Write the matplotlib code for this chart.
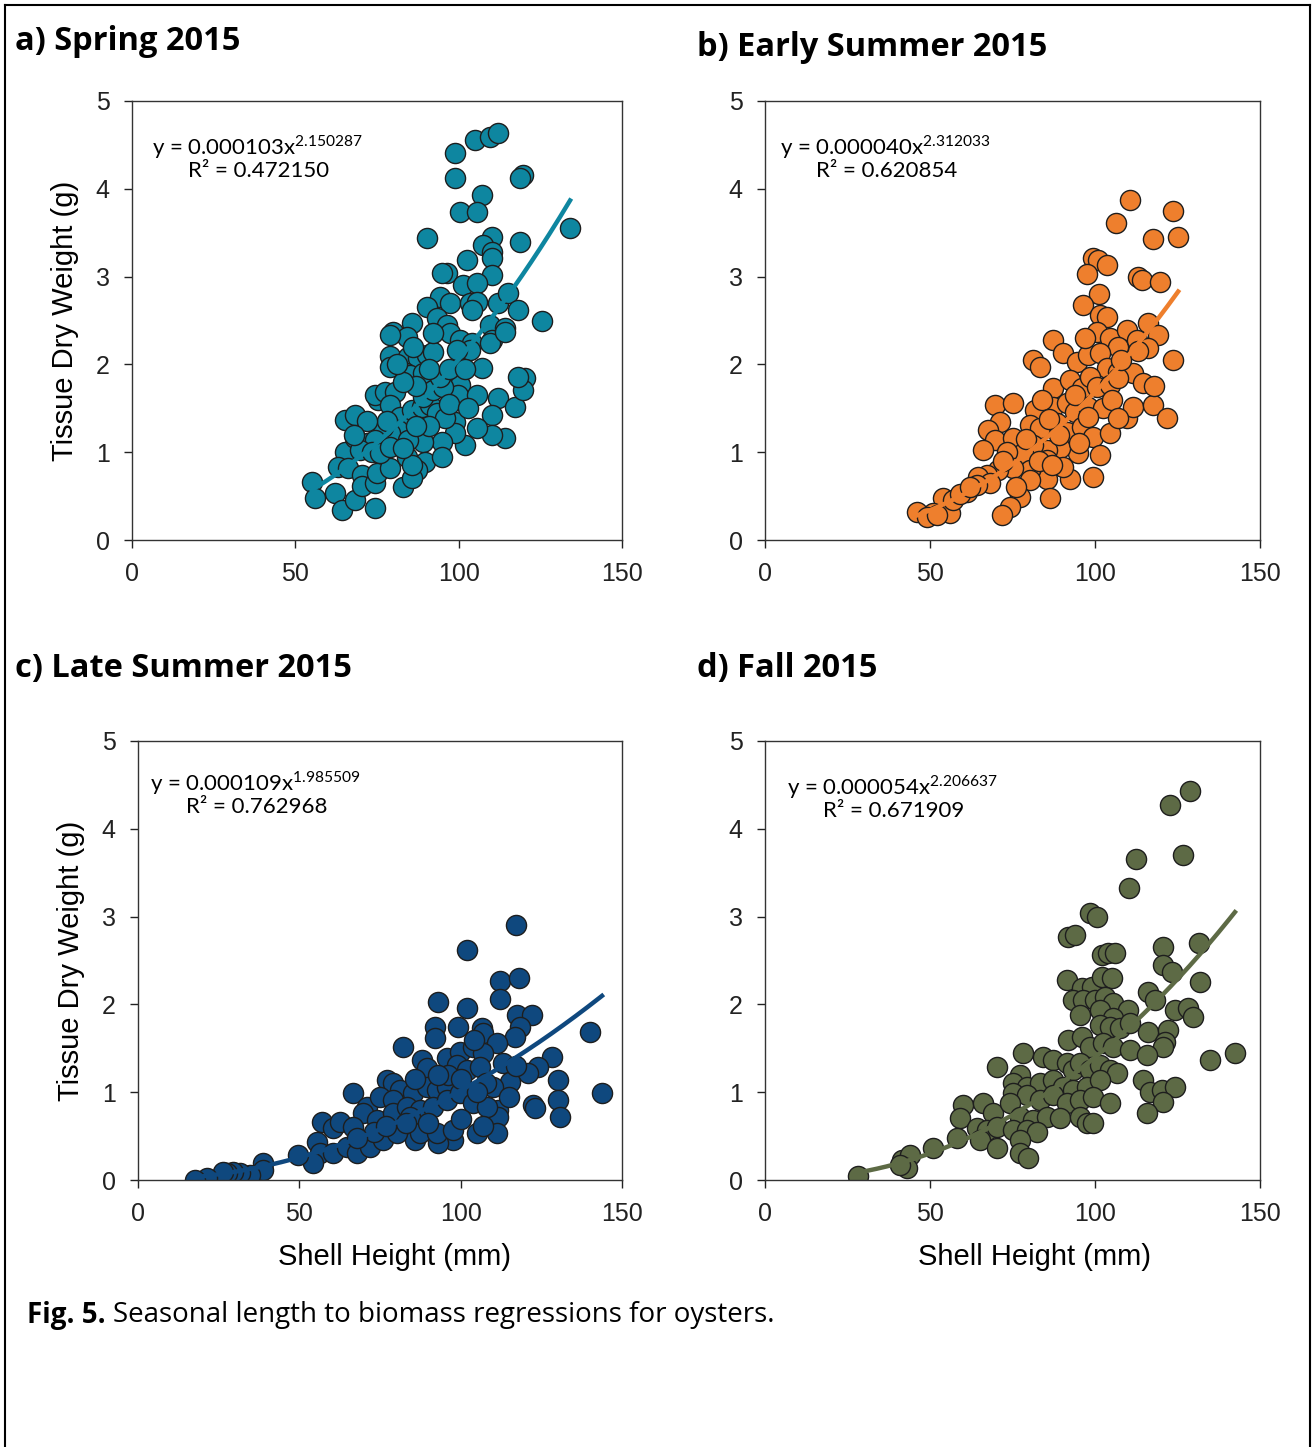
import numpy as np
import matplotlib
matplotlib.use("Agg")
import matplotlib.pyplot as plt
from matplotlib.lines import Line2D

# ---- data (shell height mm, tissue dry weight g) ----
spring_x = [98.9, 105.0, 109.6, 112.0, 98.9, 119.7, 118.8, 107.1, 100.4, 105.6, 90.3, 110.2, 107.4, 110.2,
            110.2, 118.8, 134.1, 102.5, 96.4, 94.9, 110.2, 101.3, 105.6, 94.3, 97.3, 90.3, 103.5, 105.6,
            104.0, 112.0, 115.1, 118.2, 125.5, 85.7, 79.9, 84.2, 93.4, 96.4, 97.3, 109.6, 114.2, 110.2,
            55.0, 56.0, 62.1, 64.2, 68.3, 74.4, 65.2, 68.3, 65.2, 63.1, 66.1, 68.3, 70.4, 72.3, 70.4, 70.4,
            74.4, 75.0, 79.0, 75.3, 74.4, 77.4, 80.5, 79.0, 79.0, 84.5, 87.5, 90.3, 92.1, 84.0, 85.1, 89.0,
            79.0, 92.1, 100.4, 104.0, 109.6, 114.2, 107.0, 99.8, 100.4, 99.8, 105.6, 112.0, 110.2, 117.2,
            120.3, 119.7, 118.2, 114.2, 110.2, 105.6, 101.9, 98.9, 98.9, 94.9, 89.1, 89.7, 87.2, 83.0, 85.7,
            79.0, 82.0, 81.4, 79.0, 76.8, 74.4, 69.8, 73.5, 76.0, 85.7, 88.8, 91.2, 93.4, 95.8, 89.0, 92.1,
            95.2, 94.3, 100.4, 103.5, 99.5, 84.5, 84.2, 85.7, 79.0, 87.0, 83.0, 91.0, 97.0, 102.0, 86.0,
            81.0, 97.0, 103.0, 91.0, 87.0, 95.0, 83.0, 78.0, 72.0, 68.0]
spring_y = [4.41, 4.56, 4.59, 4.64, 4.12, 4.16, 4.12, 3.93, 3.74, 3.74, 3.44, 3.45, 3.36, 3.28,
            3.21, 3.39, 3.55, 3.19, 3.04, 3.04, 3.02, 2.90, 2.93, 2.77, 2.70, 2.65, 2.70, 2.71,
            2.62, 2.70, 2.81, 2.62, 2.50, 2.47, 2.37, 2.31, 2.53, 2.45, 2.36, 2.45, 2.41, 2.28,
            0.66, 0.48, 0.53, 0.34, 0.46, 0.36, 1.37, 1.42, 1.00, 0.83, 0.82, 1.16, 1.10, 1.10, 0.74, 0.61,
            0.65, 0.76, 0.82, 1.60, 1.65, 1.69, 1.69, 2.09, 1.97, 2.08, 2.07, 2.11, 2.14, 1.90, 1.88, 1.90,
            2.33, 2.36, 2.28, 2.24, 2.24, 2.37, 1.96, 1.85, 1.77, 1.65, 1.65, 1.62, 1.42, 1.51,
            1.85, 1.71, 1.86, 1.16, 1.20, 1.28, 1.08, 1.34, 1.22, 1.12, 1.12, 0.89, 0.80, 0.60, 0.71,
            1.54, 1.40, 1.25, 1.22, 1.29, 1.14, 1.03, 1.00, 0.99, 1.48, 1.51, 1.54, 1.45, 1.39, 1.63, 1.71,
            1.74, 1.86, 2.02, 2.16, 2.16, 1.14, 0.95, 0.85, 1.06, 1.75, 1.80, 1.95, 1.95, 1.95, 2.20,
            2.00, 1.55, 1.50, 1.30, 1.30, 0.95, 1.05, 1.35, 1.35, 1.20]

early_x = [110.6, 123.5, 106.4, 117.6, 125.2, 99.4, 100.9, 103.6, 97.6, 113.0, 114.2, 119.7, 101.2, 96.4,
           101.5, 103.6, 116.1, 119.1, 87.3, 100.6, 104.5, 109.7, 107.0, 112.7, 116.1, 123.6, 81.2, 83.3,
           90.3, 94.5, 97.9, 101.5, 103.6, 107.0, 111.5, 114.5, 87.3, 92.4, 96.1, 98.5, 100.6, 104.5,
           69.7, 75.2, 81.8, 87.3, 91.5, 93.9, 97.9, 102.4, 109.7, 111.5, 117.6, 121.8, 71.2, 67.6, 69.7,
           66.1, 75.2, 80.3, 83.3, 88.5, 91.5, 96.1, 99.4, 104.5, 101.5, 94.8, 89.4, 85.5, 81.2, 78.2,
           73.3, 92.4, 99.4, 90.3, 85.5, 85.5, 80.3, 75.2, 70.6, 67.3, 64.5, 80.3, 77.3, 86.4, 74.2, 71.8,
           68.2, 64.2, 61.2, 54.0, 56.0, 51.0, 46.0, 49.1, 52.0, 57.0, 59.0, 62.0, 84.0, 89.0, 95.0, 98.0,
           94.0, 86.0, 79.0, 105.0, 107.0, 113.0, 108.0, 97.0, 76.0, 83.0, 87.0, 72.0, 118.0, 107.0]
early_y = [3.87, 3.75, 3.61, 3.43, 3.45, 3.21, 3.19, 3.13, 3.03, 3.00, 2.96, 2.94, 2.80, 2.68,
           2.56, 2.54, 2.47, 2.33, 2.28, 2.37, 2.30, 2.39, 2.20, 2.28, 2.19, 2.05, 2.05, 1.97,
           2.13, 2.03, 2.11, 2.13, 1.96, 1.91, 1.90, 1.79, 1.73, 1.82, 1.73, 1.86, 1.74, 1.77,
           1.54, 1.56, 1.48, 1.51, 1.56, 1.46, 1.51, 1.50, 1.39, 1.51, 1.54, 1.39, 1.34, 1.25, 1.14,
           1.03, 1.16, 1.31, 1.28, 1.33, 1.23, 1.29, 1.17, 1.22, 0.97, 0.99, 1.05, 1.03, 1.08, 0.99,
           1.00, 0.70, 0.72, 0.83, 0.91, 0.70, 0.80, 0.82, 0.80, 0.74, 0.72, 0.68, 0.49, 0.48, 0.38, 0.28,
           0.65, 0.63, 0.55, 0.48, 0.31, 0.31, 0.32, 0.26, 0.28, 0.45, 0.52, 0.60, 1.60, 1.20, 1.10, 1.40,
           1.65, 1.38, 1.15, 1.60, 1.85, 2.15, 2.05, 2.30, 0.60, 0.90, 0.85, 0.90, 1.75, 1.39]

late_x = [117.1, 101.9, 112.2, 118.1, 112.2, 93.0, 102.0, 117.4, 122.1, 118.4, 116.8, 92.0, 92.0, 99.2,
          106.6, 106.9, 140.1, 82.1, 111.2, 128.3, 124.0, 120.9, 130.2, 130.2, 130.8, 143.8, 122.4, 123.0,
          113.1, 115.3, 110.0, 111.6, 111.6, 111.2, 105.1, 97.6, 93.0, 85.8, 88.0, 89.6, 95.8, 99.8, 103.8,
          106.9, 98.9, 102.0, 106.0, 66.6, 77.2, 79.0, 81.2, 71.0, 75.0, 79.0, 85.2, 89.6, 92.7, 95.8,
          69.7, 74.1, 79.0, 83.4, 87.4, 91.4, 95.8, 99.8, 103.8, 108.1, 57.0, 60.4, 62.6, 66.6, 55.5, 56.4,
          54.2, 60.4, 64.8, 67.9, 71.9, 75.9, 80.3, 49.6, 38.7, 38.7, 34.7, 31.6, 29.4, 27.6, 26.3, 21.4,
          17.7, 84.3, 87.4, 92.7, 97.6, 104.0, 96.0, 100.0, 93.0, 86.0, 83.0, 90.0, 73.0, 77.0, 68.0,
          108.0, 105.0, 117.0, 115.0, 100.0, 107.0]
late_y = [2.90, 2.62, 2.27, 2.30, 2.06, 2.03, 1.96, 1.88, 1.88, 1.74, 1.63, 1.74, 1.62, 1.74,
          1.73, 1.67, 1.69, 1.51, 1.56, 1.40, 1.29, 1.22, 1.14, 0.91, 0.72, 0.99, 0.85, 0.82,
          1.33, 1.12, 1.06, 0.80, 0.72, 0.54, 0.54, 0.46, 0.42, 0.46, 1.37, 1.28, 1.39, 1.46, 1.51,
          1.45, 1.31, 1.25, 1.29, 0.99, 1.14, 1.10, 1.03, 0.83, 0.95, 0.91, 0.99, 1.06, 1.03, 1.06,
          0.76, 0.68, 0.76, 0.83, 0.80, 0.83, 0.91, 0.99, 0.88, 0.83, 0.66, 0.59, 0.66, 0.60, 0.43, 0.31,
          0.19, 0.31, 0.38, 0.31, 0.38, 0.46, 0.54, 0.28, 0.19, 0.11, 0.06, 0.08, 0.09, 0.08, 0.09, 0.02,
          0.00, 0.72, 0.54, 0.54, 0.57, 1.60, 1.20, 1.15, 1.20, 1.15, 0.65, 0.65, 0.55, 0.62, 0.48,
          1.10, 1.00, 1.30, 0.95, 0.70, 0.62]

fall_x = [128.8, 122.7, 126.6, 112.4, 110.3, 98.5, 100.6, 91.8, 93.9, 120.6, 131.5, 102.1, 103.9, 106.1,
          120.6, 123.3, 91.5, 131.8, 96.1, 99.1, 102.1, 105.2, 116.1, 118.2, 93.3, 96.4, 100.0, 103.0,
          105.5, 110.0, 95.5, 101.5, 105.5, 124.2, 128.2, 129.7, 101.5, 104.5, 107.6, 110.6, 116.1, 122.1,
          121.2, 120.6, 134.8, 142.4, 91.8, 96.1, 98.5, 102.4, 105.5, 110.6, 115.8, 78.2, 84.2, 87.3, 91.5,
          93.3, 95.5, 98.5, 101.5, 104.5, 106.7, 114.5, 116.7, 120.3, 124.2, 120.6, 115.8, 70.3, 77.3, 75.2,
          79.4, 83.3, 87.3, 90.3, 93.3, 97.6, 101.5, 75.2, 79.4, 83.3, 87.3, 91.5, 95.5, 99.4, 104.5, 60.0,
          59.1, 66.1, 69.1, 74.2, 77.3, 81.2, 85.5, 89.4, 95.5, 97.6, 99.4, 64.2, 67.3, 70.3, 75.2, 79.4,
          82.4, 58.2, 65.2, 70.3, 77.3, 77.3, 79.7, 50.9, 41.5, 43.9, 43.0, 40.9, 28.2]
fall_y = [4.43, 4.27, 3.70, 3.66, 3.33, 3.04, 3.00, 2.77, 2.79, 2.65, 2.70, 2.56, 2.59, 2.59,
          2.45, 2.37, 2.28, 2.26, 2.19, 2.20, 2.31, 2.30, 2.14, 2.05, 2.05, 2.05, 2.05, 2.08,
          2.02, 1.94, 1.88, 1.94, 1.85, 1.94, 1.96, 1.86, 1.77, 1.74, 1.73, 1.79, 1.69, 1.71,
          1.57, 1.51, 1.37, 1.45, 1.59, 1.63, 1.51, 1.56, 1.51, 1.48, 1.42, 1.45, 1.40, 1.37, 1.33,
          1.25, 1.33, 1.25, 1.31, 1.25, 1.22, 1.14, 1.00, 1.03, 1.06, 0.89, 0.76, 1.29, 1.20, 1.10,
          1.06, 1.10, 1.14, 1.06, 1.03, 1.06, 1.14, 0.99, 0.97, 0.91, 0.97, 0.88, 0.91, 0.95, 0.88, 0.85,
          0.71, 0.88, 0.76, 0.88, 0.72, 0.68, 0.72, 0.71, 0.72, 0.65, 0.65, 0.59, 0.57, 0.60, 0.57, 0.57,
          0.55, 0.48, 0.46, 0.36, 0.46, 0.31, 0.25, 0.36, 0.23, 0.28, 0.14, 0.17, 0.05]

titles = ["a) Spring 2015", "b) Early Summer 2015", "c) Late Summer 2015", "d) Fall 2015"]
coef_a = [0.000103, 0.000040, 0.000109, 0.000054]
coef_b = [2.150287, 2.312033, 1.985509, 2.206637]
r2 = [0.472150, 0.620854, 0.762968, 0.671909]
colors = ["#0E86A0", "#EE7F2D", "#0F487E", "#5D6A45"]

W, H = 1314, 1447
fig = plt.figure(figsize=(W / 100, H / 100), dpi=100)

def px_axes(l, t, r, b):
    return fig.add_axes([l / W, 1 - b / H, (r - l) / W, (b - t) / H])

boxes = [(132, 101, 622, 540), (765, 101, 1260, 540), (138, 741, 622, 1180), (765, 741, 1260, 1180)]
title_pos = [(15, 42), (697, 47), (15, 668), (697, 668)]
eq_pos = [(152, 147), (780, 147), (150, 783), (787, 787)]
xlabel_x = [0.5, 0.5, 0.53, 0.545]
data = [(spring_x, spring_y), (early_x, early_y), (late_x, late_y), (fall_x, fall_y)]

for i in range(4):
    ax = px_axes(*boxes[i])
    x, y = data[i]
    ax.scatter(x, y, s=210, color=colors[i], edgecolor="#1e1e1e", linewidth=1.0, zorder=2)
    xs = np.linspace(min(x), max(x), 200)
    ax.plot(xs, coef_a[i] * xs ** coef_b[i], color=colors[i], lw=3.2, zorder=3)
    ax.set_xlim(0, 150)
    ax.set_ylim(0, 5)
    ax.set_xticks([0, 50, 100, 150])
    ax.set_yticks([0, 1, 2, 3, 4, 5])
    ax.tick_params(direction="out", length=6, width=1, labelsize=18, pad=10, colors="#222222")
    for tl in ax.get_xticklabels() + ax.get_yticklabels():
        tl.set_family("Liberation Sans")
    for s in ax.spines.values():
        s.set_color("#333333")
        s.set_linewidth(1)
    if i in (0, 2):
        ax.set_ylabel("Tissue Dry Weight (g)", fontsize=21, family="Liberation Sans", labelpad=12)
    if i in (2, 3):
        ax.set_xlabel("Shell Height (mm)", fontsize=21, family="Liberation Sans", labelpad=12)
        ax.xaxis.label.set_x(xlabel_x[i])

    ex, ey = eq_pos[i]
    fig.text(ex / W, 1 - ey / H, "y = %.6fx$^{\\mathregular{%.6f}}$" % (coef_a[i], coef_b[i]),
             fontsize=16, family="Lato", va="center", ha="left")
    fig.text((ex + 36) / W, 1 - (ey + 24) / H, "R\u00b2 = %.6f" % r2[i],
             fontsize=16, family="Lato", va="center", ha="left")

    tx, ty = title_pos[i]
    fig.text(tx / W, 1 - ty / H, titles[i], fontsize=23.5, weight="bold", family="Open Sans",
             va="center", ha="left")

# caption: bold label followed by plain text
fig.canvas.draw()
r = fig.canvas.get_renderer()
lab = fig.text(27 / W, 1 - 1315 / H, "Fig. 5.", fontsize=20, weight="bold", family="Open Sans",
               va="center", ha="left")
bb = lab.get_window_extent(renderer=r)
fig.text((bb.x1 + 7) / W, 1 - 1315 / H, "Seasonal length to biomass regressions for oysters.",
         fontsize=20, family="Open Sans", va="center", ha="left")

# frame around the figure (left, top, right)
fig.add_artist(Line2D([5 / W, 5 / W], [0, 1 - 5 / H], color="black", lw=1.5))
fig.add_artist(Line2D([5 / W, 1310 / W], [1 - 5 / H, 1 - 5 / H], color="black", lw=1.5))
fig.add_artist(Line2D([1310 / W, 1310 / W], [0, 1 - 5 / H], color="black", lw=1.5))

fig.savefig("out.png", dpi=100)
